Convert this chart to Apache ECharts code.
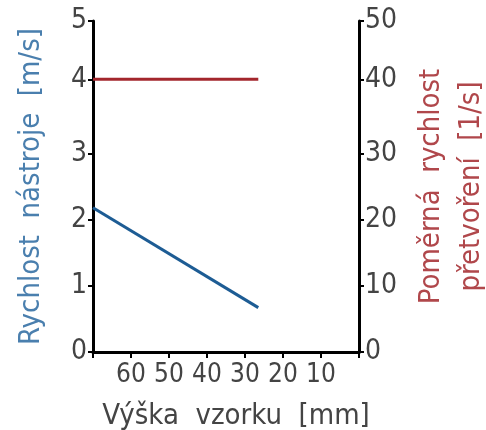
<!DOCTYPE html>
<html><head><meta charset="utf-8">
<script src="https://cdn.jsdelivr.net/npm/echarts@6/dist/echarts.min.js"></script>
<style>html,body{margin:0;padding:0;background:#fff}#c{width:486px;height:430px}</style>
</head><body><div id="c"></div>
<script>
var heightX = [70, 26.5];
var toolSpeed = [2.18, 0.67];
var strainRate = [41.2, 41.2];
var xTicks = [0, 10, 20, 30, 40, 50, 60, 70];
// tick positions as drawn in the picture (the "4"/"40" tick sits slightly high)
var leftTicks = [0, 1, 2, 3, 4.12, 5];
var leftTickLabels = ['0', '1', '2', '3', '4', '5'];
var rightTicks = [0, 10, 20, 30, 41.2, 50];
var rightTickLabels = ['0', '10', '20', '30', '40', '50'];
var FONT = "'Liberation Sans Narrow','DejaVu Sans Condensed',sans-serif";
function labelFor(ticks, labels) {
  return function (v) {
    for (var i = 0; i < ticks.length; i++) if (Math.abs(ticks[i] - v) < 1e-6) return labels[i];
    return '';
  };
}
var chart = echarts.init(document.getElementById('c'));
chart.setOption({
  animation: false,
  grid: {left: 93, right: 127, top: 21, bottom: 78, containLabel: false, outerBoundsMode: 'none'},
  xAxis: {
    type: 'value', inverse: true, min: 0, max: 70, interval: 10,
    name: 'Výška  vzorku  [mm]', nameLocation: 'middle', nameGap: 50,
    nameTextStyle: {fontFamily: FONT, fontSize: 29, color: '#444', padding: [0, 0, 0, 20]},
    axisLine: {show: true, onZero: false, lineStyle: {color: '#000', width: 3}},
    axisTick: {show: true, length: 6, lineStyle: {color: '#000', width: 2}},
    splitLine: {show: false},
    axisLabel: {fontFamily: FONT, fontSize: 26, color: '#444', margin: 10,
      formatter: function (v) { return (v === 0 || v === 70) ? '' : String(v); }}
  },
  yAxis: [{
    type: 'value', min: 0, max: 5, interval: 1, position: 'left',
    name: 'Rychlost  nástroje  [m/s]', nameLocation: 'middle', nameGap: 47,
    nameTextStyle: {fontFamily: FONT, fontSize: 29, color: '#4a7fae'},
    axisLine: {show: true, onZero: false, lineStyle: {color: '#000', width: 3}},
    axisTick: {show: true, length: 5, customValues: leftTicks, lineStyle: {color: '#000', width: 2}},
    splitLine: {show: false},
    axisLabel: {fontFamily: FONT, fontSize: 28, color: '#444', margin: 6,
      customValues: leftTicks, formatter: labelFor(leftTicks, leftTickLabels)}
  }, {
    type: 'value', min: 0, max: 50, interval: 10, position: 'right',
    name: 'Poměrná  rychlost\npřetvoření  [1/s]', nameLocation: 'middle', nameGap: 52,
    nameTextStyle: {fontFamily: FONT, fontSize: 29, color: '#b0474b', lineHeight: 40, align: 'center'},
    axisLine: {show: true, onZero: false, lineStyle: {color: '#000', width: 3}},
    axisTick: {show: true, length: 5, customValues: rightTicks, lineStyle: {color: '#000', width: 2}},
    splitLine: {show: false},
    axisLabel: {fontFamily: FONT, fontSize: 28, color: '#444', margin: 6,
      customValues: rightTicks, formatter: labelFor(rightTicks, rightTickLabels)}
  }],
  series: [{
    type: 'line', yAxisIndex: 0, symbol: 'none',
    data: heightX.map(function (x, i) { return [x, toolSpeed[i]]; }),
    lineStyle: {color: '#1d5c94', width: 3}
  }, {
    type: 'line', yAxisIndex: 1, symbol: 'none',
    data: heightX.map(function (x, i) { return [x, strainRate[i]]; }),
    lineStyle: {color: '#a3262c', width: 3}
  }]
});
</script></body></html>
